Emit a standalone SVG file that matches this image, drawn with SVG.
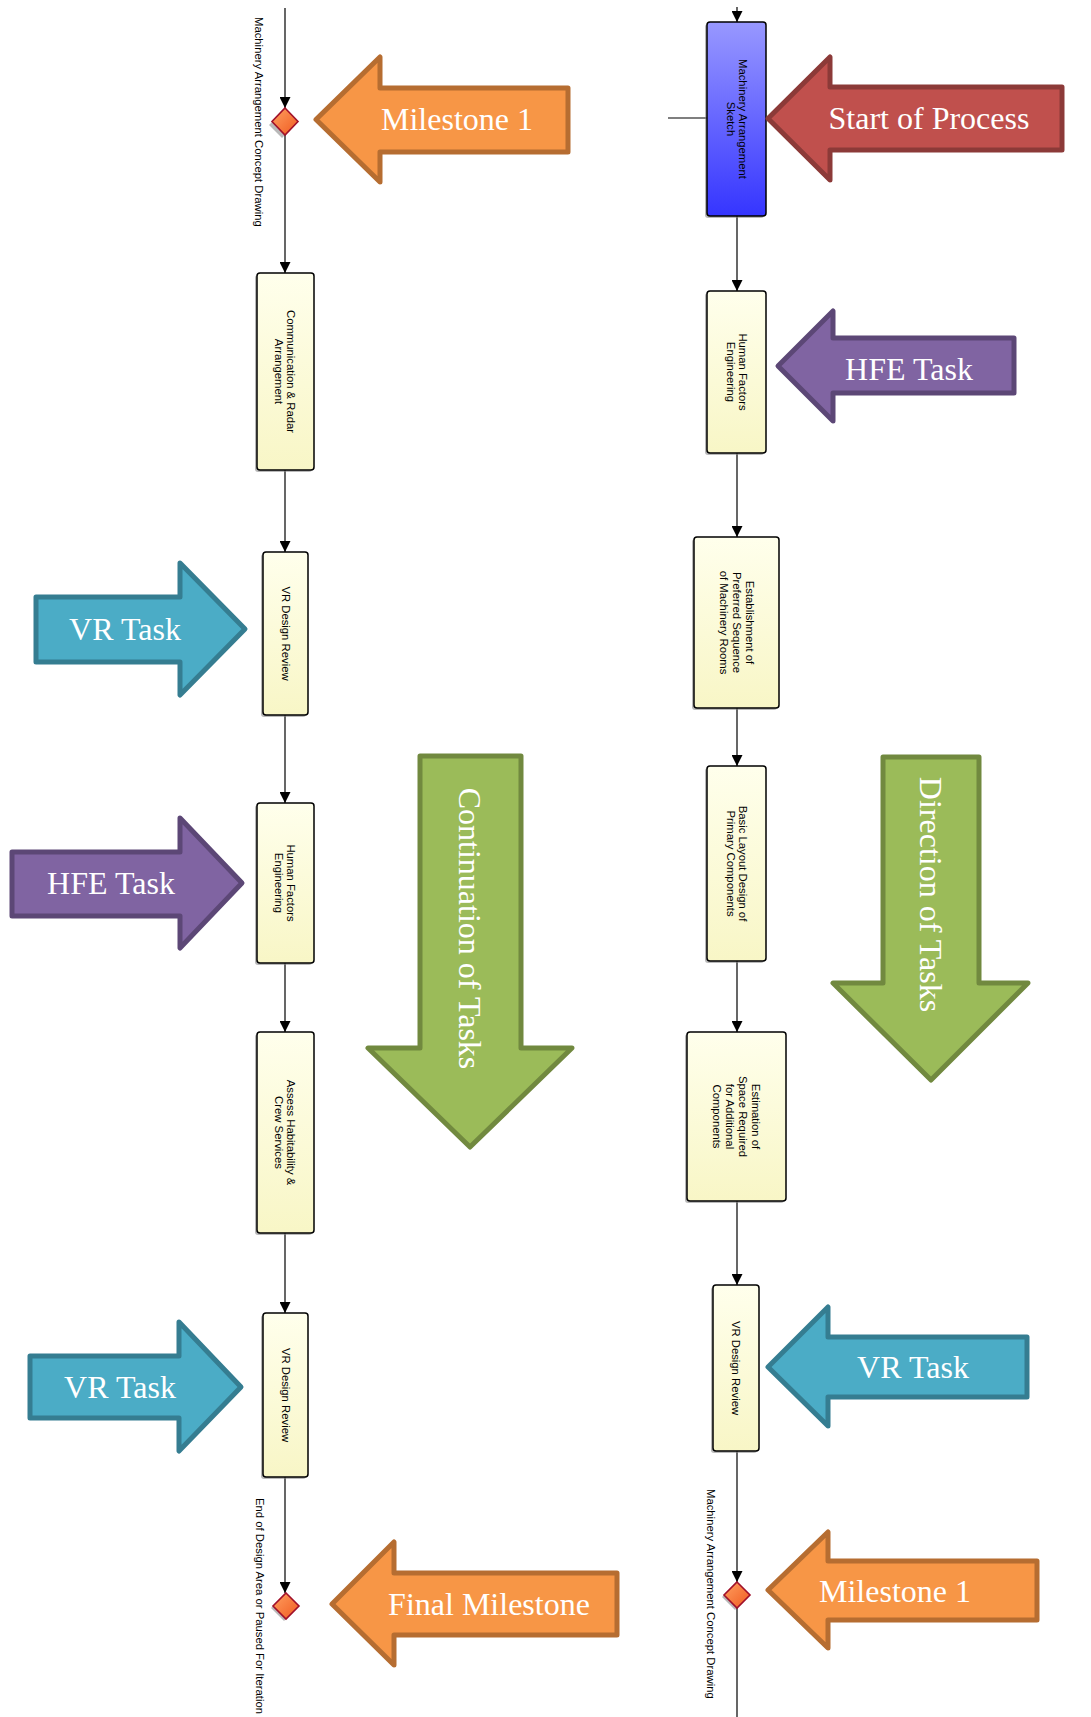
<svg xmlns="http://www.w3.org/2000/svg" width="1091" height="1717" viewBox="0 0 1091 1717">
<style>
.bg{fill:#fff}
.ln{stroke:#000;stroke-width:1.2;fill:none}
.box{fill:url(#yel);stroke:#000;stroke-width:1.5}
.blue{fill:url(#blu);stroke:#000;stroke-width:1.5}
.sh{fill:#808080;opacity:.55}
.dia{fill:url(#org);stroke:#A0102A;stroke-width:1.6}
.t{font-family:"Liberation Sans",Arial,sans-serif;font-size:11.3px;fill:#000}
.big{font-family:"Liberation Serif","Times New Roman",serif;font-size:32px;fill:#fff;text-anchor:middle}
.arr{stroke-width:5;stroke-linejoin:round}
.orange{fill:#F79646;stroke:#B66D31}
.red{fill:#C0504D;stroke:#8C3A38}
.purple{fill:#8064A2;stroke:#5C4776}
.cyan{fill:#4BACC6;stroke:#357D91}
.green{fill:#9BBB59;stroke:#71893F}
</style>
<defs>
<linearGradient id="yel" x1="0" y1="0" x2="0" y2="1"><stop offset="0" stop-color="#FFFFEC"/><stop offset="1" stop-color="#F8F6C6"/></linearGradient>
<linearGradient id="blu" x1="0" y1="0" x2="0" y2="1"><stop offset="0" stop-color="#9898FF"/><stop offset="1" stop-color="#3535FF"/></linearGradient>
<linearGradient id="org" x1="0" y1="0" x2="1" y2="1"><stop offset="0" stop-color="#FFA060"/><stop offset="1" stop-color="#F05A20"/></linearGradient>
<marker id="ah" viewBox="0 0 10 10" refX="10" refY="5" markerWidth="11" markerHeight="11" markerUnits="userSpaceOnUse" orient="auto"><path d="M0,0 L10,5 L0,10 z" fill="#000"/></marker>
</defs>
<rect class="bg" x="0" y="0" width="1091" height="1717"/>

<g id="connectors">
<line class="ln" x1="285" y1="8" x2="285" y2="108" marker-end="url(#ah)"/>
<line class="ln" x1="285" y1="135" x2="285" y2="273" marker-end="url(#ah)"/>
<line class="ln" x1="285" y1="470" x2="285" y2="552" marker-end="url(#ah)"/>
<line class="ln" x1="285" y1="715" x2="285" y2="803" marker-end="url(#ah)"/>
<line class="ln" x1="285" y1="963" x2="285" y2="1032" marker-end="url(#ah)"/>
<line class="ln" x1="285" y1="1233" x2="285" y2="1313" marker-end="url(#ah)"/>
<line class="ln" x1="285" y1="1477" x2="285" y2="1593" marker-end="url(#ah)"/>
<line class="ln" x1="737" y1="7" x2="737" y2="22" marker-end="url(#ah)"/>
<line class="ln" x1="668" y1="118" x2="707" y2="118"/>
<line class="ln" x1="737" y1="216" x2="737" y2="291" marker-end="url(#ah)"/>
<line class="ln" x1="737" y1="453" x2="737" y2="537" marker-end="url(#ah)"/>
<line class="ln" x1="737" y1="708" x2="737" y2="766" marker-end="url(#ah)"/>
<line class="ln" x1="737" y1="961" x2="737" y2="1032" marker-end="url(#ah)"/>
<line class="ln" x1="737" y1="1201" x2="737" y2="1285" marker-end="url(#ah)"/>
<line class="ln" x1="737" y1="1451" x2="737" y2="1582" marker-end="url(#ah)"/>
<line class="ln" x1="737" y1="1608" x2="737" y2="1717"/>
<text class="t" transform="translate(255,17) rotate(90)" x="0" y="0">Machinery Arrangement Concept Drawing</text>
<text class="t" transform="translate(256,1498) rotate(90)" x="0" y="0">End of Design Area or Paused For Iteration</text>
<text class="t" transform="translate(707,1489) rotate(90)" x="0" y="0">Machinery Arrangement Concept Drawing</text>
</g>

<g id="milestone-top-left">
<path class="sh" d="M283,110 L296,123 L283,136 L270,123 z" transform="translate(-1,2)"/>
<path class="dia" d="M285,108 L298,121.5 L285,135 L272,121.5 z"/>
</g>
<g id="milestone-end-left">
<path class="sh" d="M284,1595 L297,1608 L284,1621 L271,1608 z"/>
<path class="dia" d="M286,1593 L299,1606 L286,1619 L273,1606 z"/>
</g>
<g id="milestone-bottom-right">
<path class="sh" d="M735,1584 L748,1597 L735,1610 L722,1597 z"/>
<path class="dia" d="M737,1582 L750,1595 L737,1608 L724,1595 z"/>
</g>

<g id="sketch">
<rect class="sh" x="705" y="24" width="59" height="194" rx="3"/>
<rect class="blue" x="707" y="22" width="59" height="194" rx="3"/>
<text class="t" text-anchor="middle" transform="translate(737,119) rotate(90)"><tspan x="0" y="-2">Machinery Arrangement</tspan><tspan x="0" y="10">Sketch</tspan></text>
</g>
<g id="comm">
<rect class="sh" x="255" y="275" width="57" height="197" rx="3"/>
<rect class="box" x="257" y="273" width="57" height="197" rx="3"/>
<text class="t" text-anchor="middle" transform="translate(285,371.5) rotate(90)"><tspan x="0" y="-2">Communication &amp; Radar</tspan><tspan x="0" y="10">Arrangement</tspan></text>
</g>
<g id="vr-left-1">
<rect class="sh" x="261" y="554" width="45" height="163" rx="3"/>
<rect class="box" x="263" y="552" width="45" height="163" rx="3"/>
<text class="t" text-anchor="middle" transform="translate(285.5,633.5) rotate(90)"><tspan x="0" y="4">VR Design Review</tspan></text>
</g>
<g id="hfe-left">
<rect class="sh" x="255" y="805" width="57" height="160" rx="3"/>
<rect class="box" x="257" y="803" width="57" height="160" rx="3"/>
<text class="t" text-anchor="middle" transform="translate(285,883) rotate(90)"><tspan x="0" y="-2">Human Factors</tspan><tspan x="0" y="10">Engineering</tspan></text>
</g>
<g id="assess">
<rect class="sh" x="255" y="1034" width="57" height="201" rx="3"/>
<rect class="box" x="257" y="1032" width="57" height="201" rx="3"/>
<text class="t" text-anchor="middle" transform="translate(285,1132.5) rotate(90)"><tspan x="0" y="-2">Assess Habitability &amp;</tspan><tspan x="0" y="10">Crew Services</tspan></text>
</g>
<g id="vr-left-2">
<rect class="sh" x="261" y="1315" width="45" height="164" rx="3"/>
<rect class="box" x="263" y="1313" width="45" height="164" rx="3"/>
<text class="t" text-anchor="middle" transform="translate(285.5,1395) rotate(90)"><tspan x="0" y="4">VR Design Review</tspan></text>
</g>
<g id="hfe-right">
<rect class="sh" x="705" y="293" width="59" height="162" rx="3"/>
<rect class="box" x="707" y="291" width="59" height="162" rx="3"/>
<text class="t" text-anchor="middle" transform="translate(737,372) rotate(90)"><tspan x="0" y="-2">Human Factors</tspan><tspan x="0" y="10">Engineering</tspan></text>
</g>
<g id="establish">
<rect class="sh" x="692" y="539" width="85" height="171" rx="3"/>
<rect class="box" x="694" y="537" width="85" height="171" rx="3"/>
<text class="t" text-anchor="middle" transform="translate(736.5,622.5) rotate(90)"><tspan x="0" y="-9">Establishment of</tspan><tspan x="0" y="4">Preferred Sequence</tspan><tspan x="0" y="17">of Machinery Rooms</tspan></text>
</g>
<g id="basic-layout">
<rect class="sh" x="705" y="768" width="59" height="195" rx="3"/>
<rect class="box" x="707" y="766" width="59" height="195" rx="3"/>
<text class="t" text-anchor="middle" transform="translate(736.5,863.5) rotate(90)"><tspan x="0" y="-2">Basic Layout Design of</tspan><tspan x="0" y="10">Primary Components</tspan></text>
</g>
<g id="estimation">
<rect class="sh" x="685" y="1034" width="99" height="169" rx="3"/>
<rect class="box" x="687" y="1032" width="99" height="169" rx="3"/>
<text class="t" text-anchor="middle" transform="translate(736.5,1116.5) rotate(90)"><tspan x="0" y="-15.5">Estimation of</tspan><tspan x="0" y="-2.5">Space Required</tspan><tspan x="0" y="10.5">for Additional</tspan><tspan x="0" y="23.5">Components</tspan></text>
</g>
<g id="vr-right">
<rect class="sh" x="711" y="1287" width="46" height="166" rx="3"/>
<rect class="box" x="713" y="1285" width="46" height="166" rx="3"/>
<text class="t" text-anchor="middle" transform="translate(736,1368) rotate(90)"><tspan x="0" y="4">VR Design Review</tspan></text>
</g>

<g id="arrow-milestone1-top">
<path class="arr orange" d="M316,119.5 L380,57 L380,88 L568,88 L568,152 L380,152 L380,182 z"/>
<text class="big" x="457" y="130">Milestone 1</text>
</g>
<g id="arrow-start">
<path class="arr red" d="M768,118.5 L830,57 L830,87 L1062,87 L1062,150 L830,150 L830,180 z"/>
<text class="big" x="929" y="129">Start of Process</text>
</g>
<g id="arrow-hfe-right">
<path class="arr purple" d="M778,366 L833,311 L833,338 L1014,338 L1014,393 L833,393 L833,421 z"/>
<text class="big" x="909" y="380">HFE Task</text>
</g>
<g id="arrow-vr-top-left">
<path class="arr cyan" d="M36,597 L180,597 L180,563 L245,629 L180,695 L180,662 L36,662 z"/>
<text class="big" x="125" y="640">VR Task</text>
</g>
<g id="arrow-hfe-left">
<path class="arr purple" d="M12,852 L180,852 L180,818 L242,883 L180,948 L180,916 L12,916 z"/>
<text class="big" x="111" y="894">HFE Task</text>
</g>
<g id="arrow-continuation">
<path class="arr green" d="M420,756 L521,756 L521,1048 L572,1048 L470,1147 L368,1048 L420,1048 z"/>
<text class="big" transform="translate(470,928.5) rotate(90)" x="0" y="11">Continuation of Tasks</text>
</g>
<g id="arrow-direction">
<path class="arr green" d="M883,757 L979,757 L979,983 L1028,983 L931,1080 L833,983 L883,983 z"/>
<text class="big" transform="translate(931,894.5) rotate(90)" x="0" y="11">Direction of Tasks</text>
</g>
<g id="arrow-vr-bottom-left">
<path class="arr cyan" d="M30,1356 L179,1356 L179,1322 L241,1387 L179,1451 L179,1418 L30,1418 z"/>
<text class="big" x="120" y="1398">VR Task</text>
</g>
<g id="arrow-vr-right">
<path class="arr cyan" d="M768,1367 L828,1307 L828,1337 L1027,1337 L1027,1397 L828,1397 L828,1426 z"/>
<text class="big" x="913" y="1378">VR Task</text>
</g>
<g id="arrow-final">
<path class="arr orange" d="M332,1604 L394,1542 L394,1573 L617,1573 L617,1635 L394,1635 L394,1665 z"/>
<text class="big" x="489" y="1615">Final Milestone</text>
</g>
<g id="arrow-milestone1-bottom">
<path class="arr orange" d="M768,1590 L828,1532 L828,1561 L1037,1561 L1037,1620 L828,1620 L828,1648 z"/>
<text class="big" x="895" y="1602">Milestone 1</text>
</g>
</svg>
